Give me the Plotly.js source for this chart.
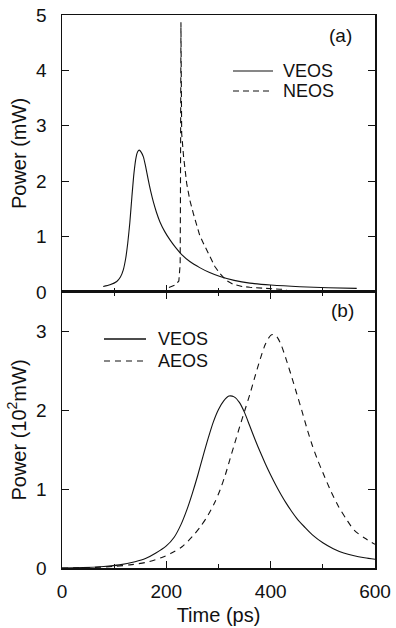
<!DOCTYPE html>
<html><head><meta charset="utf-8">
<script src="https://cdn.plot.ly/plotly-3.0.1.min.js"></script>
<style>html,body{margin:0;padding:0;background:#fff}</style>
</head><body><div id="chart" style="width:396px;height:628px"></div>
<script>
// Panel (a)
const tA_veos = [79, 92, 105, 112, 117.5, 122, 126, 130, 134, 138, 142, 145, 148, 152, 156, 160, 165, 170, 175, 181, 188, 197, 207, 218, 229, 245, 264, 283, 303, 330, 360, 400, 456, 510, 565];
const pA_veos = [0.10, 0.13, 0.19, 0.27, 0.40, 0.60, 0.88, 1.25, 1.72, 2.15, 2.43, 2.53, 2.56, 2.52, 2.44, 2.28, 2.04, 1.82, 1.63, 1.44, 1.26, 1.09, 0.94, 0.80, 0.68, 0.55, 0.44, 0.35, 0.28, 0.21, 0.16, 0.125, 0.095, 0.078, 0.065];
const tA_neos = [205, 210, 218, 224, 226.5, 227, 227.5, 228, 228.6, 229.4, 233, 239, 245, 251.7, 258, 264, 271, 284, 293, 303, 315, 328, 345, 360, 390, 418, 430];
const pA_neos = [0.08, 0.1, 0.13, 0.2, 0.5, 1.5, 3.0, 4.87, 4.0, 2.86, 2.45, 1.96, 1.66, 1.42, 1.2, 1.02, 0.88, 0.64, 0.46, 0.33, 0.21, 0.14, 0.10, 0.085, 0.06, 0.05, 0.045];
// Panel (b)
const tB_veos = [0, 40, 80, 110, 140, 160, 180, 200, 215, 228, 240, 250, 260, 270, 280, 290, 300, 310, 320, 330, 340, 350, 360, 370, 380, 390, 400, 410, 420, 430, 440, 450, 465, 480, 500, 520, 540, 560, 580, 600];
const pB_veos = [0, 0.005, 0.02, 0.04, 0.08, 0.12, 0.19, 0.28, 0.39, 0.55, 0.75, 0.95, 1.17, 1.41, 1.64, 1.85, 2.01, 2.12, 2.18, 2.17, 2.10, 1.97, 1.80, 1.63, 1.47, 1.32, 1.18, 1.05, 0.93, 0.82, 0.72, 0.63, 0.52, 0.42, 0.32, 0.245, 0.19, 0.155, 0.13, 0.11];
const tB_aeos = [0, 50, 100, 130, 160, 190, 210, 230, 250, 265, 280, 292, 303, 313, 322, 331, 341, 351, 360, 370, 380, 390, 400, 405, 412, 420, 430, 440, 450, 460, 470, 480, 490, 500, 515, 530, 545, 560, 580, 600];
const pB_aeos = [0, 0.005, 0.02, 0.04, 0.07, 0.13, 0.19, 0.27, 0.40, 0.52, 0.67, 0.82, 0.99, 1.18, 1.38, 1.58, 1.80, 2.01, 2.20, 2.43, 2.65, 2.84, 2.95, 2.96, 2.93, 2.83, 2.64, 2.43, 2.21, 1.99, 1.76, 1.55, 1.37, 1.21, 0.98, 0.78, 0.62, 0.48, 0.38, 0.30];

const xTicks = [0, 200, 400, 600];
const yTicksA = [0, 1, 2, 3, 4, 5];
const yTicksB = [0, 1, 2, 3];
const namesA = ['VEOS', 'NEOS'];
const namesB = ['VEOS', 'AEOS'];

const ink = '#111';
const FONT = 'Liberation Sans, Arial, sans-serif';
const DASH = '6px,4px';

const traces = [
  {x: tA_veos, y: pA_veos, xaxis: 'x2', yaxis: 'y2', name: namesA[0], mode: 'lines', line: {color: ink, width: 1.1, shape: 'spline', smoothing: 0.6}},
  {x: tA_neos, y: pA_neos, xaxis: 'x2', yaxis: 'y2', name: namesA[1], mode: 'lines', line: {color: ink, width: 1.1, dash: DASH}},
  {x: tB_veos, y: pB_veos, xaxis: 'x', yaxis: 'y', name: namesB[0], mode: 'lines', line: {color: ink, width: 1.1, shape: 'spline', smoothing: 0.8}},
  {x: tB_aeos, y: pB_aeos, xaxis: 'x', yaxis: 'y', name: namesB[1], mode: 'lines', line: {color: ink, width: 1.1, dash: '6px,5px', shape: 'spline', smoothing: 0.8}}
];

const axBase = {
  showgrid: false, zeroline: false, showline: true, linecolor: ink, linewidth: 1.5,
  ticks: 'inside', ticklen: 7, tickwidth: 1.2, tickcolor: ink,
  tickfont: {family: FONT, size: 19, color: ink}
};

// px -> paper helpers for legend/annotation placement (plot area 62..375 x 15..568)
const px = v => (v - 62) / 313;
const py = v => 1 - (v - 15) / 553;

const legendShapes = [
  {type: 'line', xref: 'paper', yref: 'paper', x0: px(233), x1: px(273), y0: py(71), y1: py(71), line: {color: ink, width: 1.1}},
  {type: 'line', xref: 'paper', yref: 'paper', x0: px(233), x1: px(273), y0: py(91), y1: py(91), line: {color: ink, width: 1.1, dash: DASH}},
  {type: 'line', xref: 'paper', yref: 'paper', x0: px(104), x1: px(146), y0: py(339), y1: py(339), line: {color: ink, width: 1.3}},
  {type: 'line', xref: 'paper', yref: 'paper', x0: px(104), x1: px(146), y0: py(361), y1: py(361), line: {color: ink, width: 1.1, dash: '6px,5px'}}
];
const legFont = {family: FONT, size: 18, color: ink};
const legendTexts = [
  {text: namesA[0], xref: 'paper', yref: 'paper', x: px(281), y: py(71), xanchor: 'left', yanchor: 'middle', showarrow: false, font: legFont},
  {text: namesA[1], xref: 'paper', yref: 'paper', x: px(281), y: py(91), xanchor: 'left', yanchor: 'middle', showarrow: false, font: legFont},
  {text: namesB[0], xref: 'paper', yref: 'paper', x: px(156), y: py(339), xanchor: 'left', yanchor: 'middle', showarrow: false, font: legFont},
  {text: namesB[1], xref: 'paper', yref: 'paper', x: px(156), y: py(361), xanchor: 'left', yanchor: 'middle', showarrow: false, font: legFont}
];

const split = 0.4991;
const layout = {
  width: 396, height: 628,
  margin: {l: 62, r: 21, t: 15, b: 60},
  paper_bgcolor: '#fff', plot_bgcolor: '#fff',
  showlegend: false,
  font: {family: FONT, color: ink},
  xaxis: Object.assign({}, axBase, {
    range: [0, 600], tickvals: xTicks, anchor: 'y', mirror: 'ticks', ticklabelstandoff: 6,
    minor: {dtick: 100, tick0: 0, ticks: 'inside', ticklen: 4, tickcolor: ink, tickwidth: 1},
    title: {text: 'Time (ps)', font: {family: FONT, size: 20, color: ink}, standoff: 6}
  }),
  xaxis2: Object.assign({}, axBase, {
    range: [0, 600], tickvals: xTicks, anchor: 'y2', mirror: true, showticklabels: false, matches: 'x',
    minor: {dtick: 100, tick0: 0, ticks: 'inside', ticklen: 4, tickcolor: ink, tickwidth: 1}
  }),
  yaxis: Object.assign({}, axBase, {
    domain: [0, split], range: [0, 3.5], tickvals: yTicksB, anchor: 'x', mirror: 'ticks', ticklabelstandoff: 10,
    title: {text: 'Power (10<sup>2</sup>mW)', font: {family: FONT, size: 20, color: ink}, standoff: 4}
  }),
  yaxis2: Object.assign({}, axBase, {
    domain: [split, 1], range: [0, 5], tickvals: yTicksA, anchor: 'x2', mirror: 'ticks', ticklabelstandoff: 10,
    title: {text: 'Power (mW)', font: {family: FONT, size: 20, color: ink}, standoff: 4}
  }),
  shapes: legendShapes,
  annotations: legendTexts.concat([
    {text: '(a)', xref: 'paper', yref: 'paper', x: px(340), y: py(35), xanchor: 'center', yanchor: 'middle', showarrow: false, font: {family: FONT, size: 19, color: ink}},
    {text: '(b)', xref: 'paper', yref: 'paper', x: px(342), y: py(310), xanchor: 'center', yanchor: 'middle', showarrow: false, font: {family: FONT, size: 19, color: ink}}
  ])
};

Plotly.newPlot('chart', traces, layout, {displayModeBar: false, staticPlot: true});
</script>
</body></html>
